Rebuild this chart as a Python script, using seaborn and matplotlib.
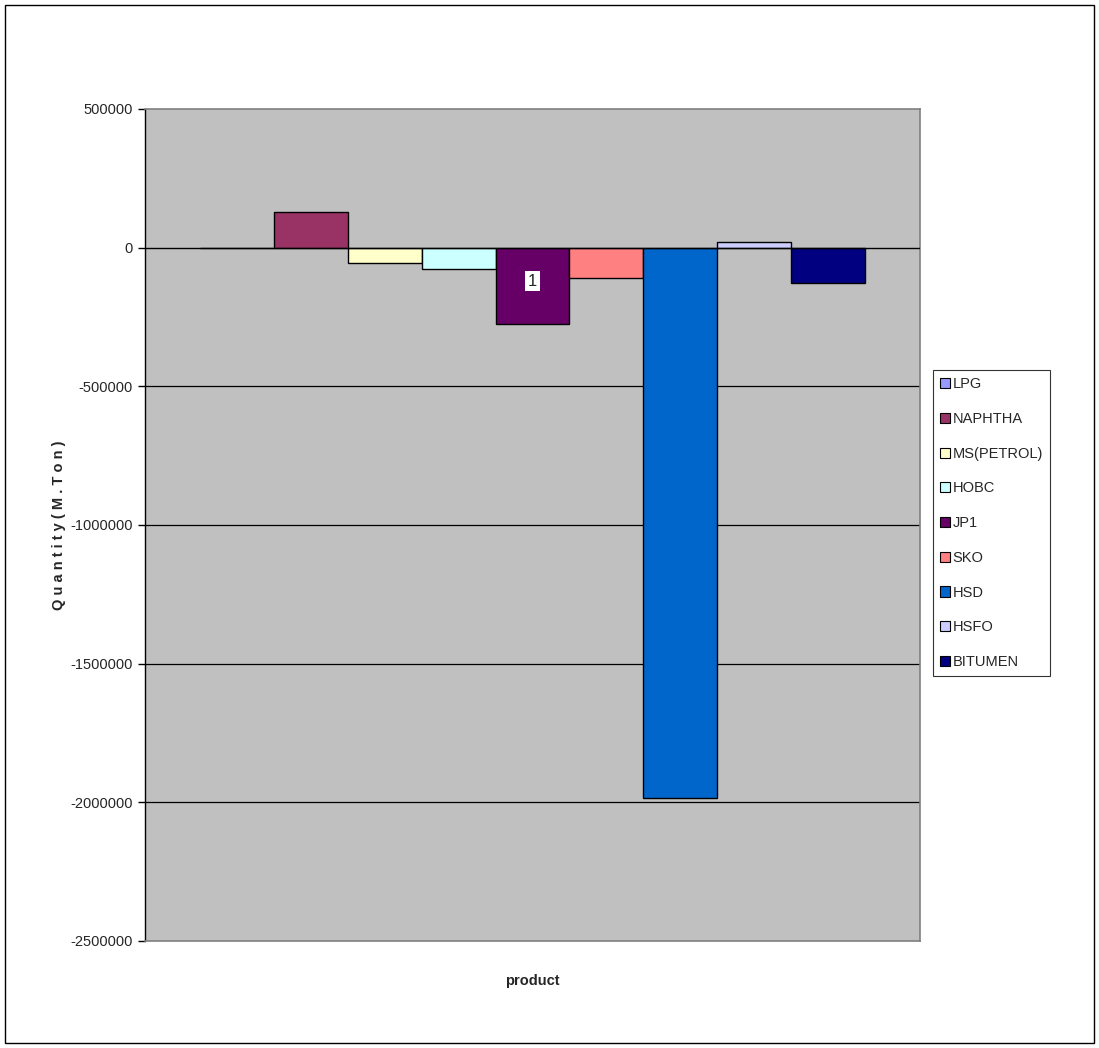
import matplotlib
matplotlib.use("Agg")
import matplotlib.pyplot as plt
from matplotlib.patches import Rectangle, Patch
import seaborn as sns
import pandas as pd

# Net quantity by product (M. Ton)
products = ["LPG", "NAPHTHA", "MS(PETROL)", "HOBC", "JP1", "SKO", "HSD", "HSFO", "BITUMEN"]
quantities = [0, 129000, -55000, -76000, -274000, -110000, -1983000, 20000, -127000]
colors = ["#9999FF", "#993366", "#FFFFCC", "#CCFFFF", "#660066",
          "#FF8080", "#0066CC", "#CCCCFF", "#000080"]
category = "1"
yticks = [500000, 0, -500000, -1000000, -1500000, -2000000, -2500000]

df = pd.DataFrame({"category": [category] * len(products),
                   "product": products,
                   "quantity": quantities})

sns.set_theme(style="white")
plt.rcParams["font.family"] = ["Liberation Sans", "DejaVu Sans"]

fig = plt.figure(figsize=(10.99, 10.48), dpi=100)
ax = fig.add_axes([145 / 1099, 1 - 941 / 1048, 775 / 1099, 832 / 1048])
ax.set_facecolor("#C0C0C0")

sns.barplot(data=df, x="category", y="quantity", hue="product",
            hue_order=products, palette=colors, width=0.859,
            edgecolor="black", linewidth=1.0, saturation=1,
            legend=False, ax=ax, zorder=3)

ax.set_xlim(-0.5, 0.5)
ax.set_ylim(-2500000, 500000)
ax.set_yticks(yticks)
ax.set_yticklabels([str(v) for v in yticks], fontsize=10.5)
ax.tick_params(axis="y", direction="out", length=5, width=1, color="black", pad=4, left=True)
ax.set_xticks([])

for v in [-500000, -1000000, -1500000, -2000000]:
    ax.axhline(v, color="black", lw=0.9, zorder=1)
ax.axhline(0, color="black", lw=1.0, zorder=4)

for side in ["top", "right", "bottom"]:
    ax.spines[side].set_color("#808080")
    ax.spines[side].set_linewidth(1.2)
ax.spines["left"].set_color("black")
ax.spines["left"].set_linewidth(1.0)

# category label sitting below the zero line
ax.annotate(category, xy=(0, 0), xytext=(0, -24), textcoords="offset points",
            ha="center", va="center", fontsize=12,
            bbox=dict(boxstyle="square,pad=0.15", fc="white", ec="none"), zorder=6)

ax.set_xlabel("product", fontsize=10.5, fontweight="bold", labelpad=24)
ax.set_ylabel("Q u a n t i t y ( M . T o n )", fontsize=10.5, fontweight="bold", labelpad=3)

handles = [Patch(facecolor=c, edgecolor="black", linewidth=0.8) for c in colors]
leg = fig.legend(handles, products, loc="upper left",
                 bbox_to_anchor=(933 / 1099, 1 - 370 / 1048),
                 fontsize=10.5, frameon=True, fancybox=False,
                 edgecolor="black", handlelength=0.65, handleheight=0.7,
                 handletextpad=0.2, labelspacing=1.42, borderpad=0.5,
                 borderaxespad=0)
leg.get_frame().set_linewidth(0.8)

fig.patches.append(Rectangle((5 / 1099, 5 / 1048), 1089 / 1099, 1038 / 1048,
                             transform=fig.transFigure, fill=False,
                             edgecolor="black", linewidth=1.0))

fig.savefig("out.png", dpi=100, facecolor="white")
